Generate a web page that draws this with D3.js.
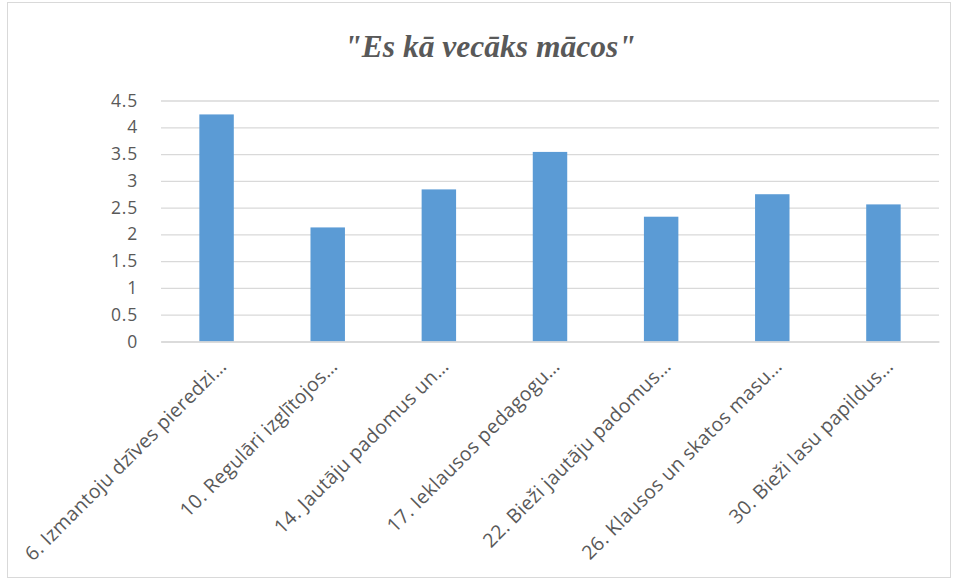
<!DOCTYPE html>
<html>
<head>
<meta charset="utf-8">
<script src="https://cdn.jsdelivr.net/npm/d3@7"></script>
<style>
  html, body { margin: 0; padding: 0; background: #fff; }
  svg { display: block; }
</style>
</head>
<body>
<svg id="chart" width="956" height="581"></svg>
<script>
const title = "\"Es kā vecāks mācos\"";
const categories = [
  "6. Izmantoju dzīves pieredzi…",
  "10. Regulāri izglītojos…",
  "14. Jautāju padomus un…",
  "17. Ieklausos pedagogu…",
  "22. Bieži jautāju padomus…",
  "26. Klausos un skatos masu…",
  "30. Bieži lasu papildus…"
];
const values = [4.24, 2.13, 2.84, 3.54, 2.33, 2.75, 2.56];
const yTicks = [0, 0.5, 1, 1.5, 2, 2.5, 3, 3.5, 4, 4.5];

const svg = d3.select("#chart");
const W = 956, H = 581;
const m = { left: 161, right: 956 - 939, top: 100.5, bottom: 581 - 341.5 };

// chart border
svg.append("rect")
  .attr("x", 7.5).attr("y", 2.5)
  .attr("width", 943).attr("height", 575)
  .attr("fill", "#fff").attr("stroke", "#d9d9d9").attr("stroke-width", 1);

const x = d3.scaleBand()
  .domain(categories)
  .range([m.left, W - m.right])
  .paddingInner(0.69)
  .paddingOuter(0.345);

const y = d3.scaleLinear()
  .domain([0, 4.5])
  .range([H - m.bottom, m.top]);

// gridlines
const grid = svg.append("g")
  .attr("transform", `translate(${m.left},0)`)
  .call(d3.axisLeft(y).tickValues(yTicks).tickSize(-(W - m.right - m.left)).tickFormat(""));
grid.select(".domain").remove();
grid.selectAll("line").attr("stroke", "#d9d9d9").attr("stroke-width", 1.3);

// y tick labels
const yAxis = svg.append("g")
  .attr("transform", `translate(${m.left - 23},0)`)
  .call(d3.axisLeft(y).tickValues(yTicks).tickSize(0).tickPadding(0).tickFormat(d3.format("")));
yAxis.select(".domain").remove();
yAxis.selectAll("text")
  .attr("font-family", "'Open Sans', sans-serif")
  .attr("font-size", "17.5px")
  .attr("letter-spacing", "0.8px")
  .attr("fill", "#595959");

// bars
svg.append("g").selectAll("rect")
  .data(values)
  .join("rect")
  .attr("x", (d, i) => x(categories[i]))
  .attr("width", x.bandwidth())
  .attr("y", d => y(d))
  .attr("height", d => y(0) - y(d))
  .attr("fill", "#5b9bd5");

// x axis
const xAxis = svg.append("g")
  .attr("transform", `translate(0,${y(0)})`)
  .call(d3.axisBottom(x).tickSize(0).tickPadding(0));
xAxis.select(".domain").attr("stroke", "#d9d9d9").attr("stroke-width", 1.3);
xAxis.selectAll(".tick text")
  .attr("font-family", "'Open Sans', sans-serif")
  .attr("font-size", "19.5px")
  .attr("letter-spacing", "0.3px")
  .attr("fill", "#595959")
  .attr("text-anchor", "end")
  .attr("dy", "0")
  .attr("transform", "translate(11,26) rotate(-45)");

// title
svg.append("text")
  .attr("x", 490)
  .attr("y", 57)
  .attr("text-anchor", "middle")
  .attr("font-family", "'Liberation Serif', 'Times New Roman', serif")
  .attr("font-style", "italic")
  .attr("font-weight", "bold")
  .attr("font-size", "31.5px")
  .attr("fill", "#595959")
  .text(title);
</script>
</body>
</html>
